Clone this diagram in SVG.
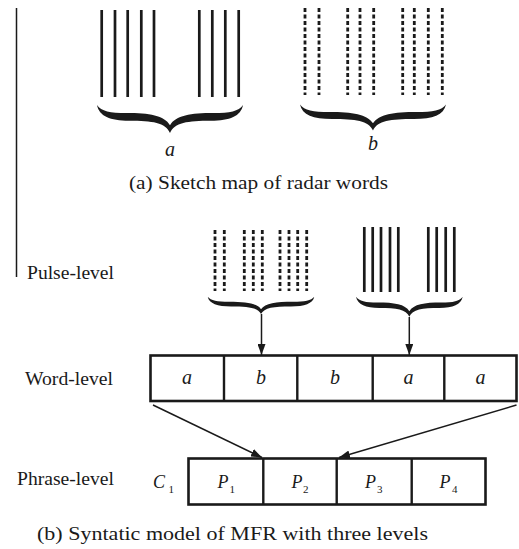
<svg xmlns="http://www.w3.org/2000/svg" width="519" height="549" viewBox="0 0 519 549">
  <style>
    text { font-family: 'Liberation Serif', 'DejaVu Serif', 'Times New Roman', serif; fill: #1a1a1a; }
    .lbl { font-size: 19px; }
    .cap { font-size: 18.5px; }
    .it { font-style: italic; }
    .sub { font-size: 11px; font-style: normal; }
    .solid { stroke: #1a1a1a; stroke-width: 2.7; fill: none; }
    .dots { stroke: #1a1a1a; stroke-width: 2.8; fill: none; stroke-dasharray: 4 2.5; }
    .box { stroke: #1a1a1a; stroke-width: 2.6; fill: #fff; }
    .div { stroke: #1a1a1a; stroke-width: 2.4; }
    .conn { stroke: #1a1a1a; stroke-width: 1.5; fill: none; }
    .brace { fill: #1a1a1a; }
  </style>
  <defs>
    <!-- under-brace, 100 wide and 20 tall, cusp pointing down -->
    <path id="brace" d="M0,0 C3,4.5 9,5.8 20,5.8 C36,5.8 46,7.5 50,14.5 C54,7.5 64,5.8 80,5.8 C91,5.8 97,4.5 100,0 C98.5,8 91,11.2 78,11.2 C62,11.2 53,12.5 50,20 C47,12.5 38,11.2 22,11.2 C9,11.2 1.5,8 0,0 Z"/>
    <marker id="arrow" markerUnits="userSpaceOnUse" markerWidth="11" markerHeight="8" refX="11" refY="4" orient="auto">
      <path d="M0,0 L11,4 L0,8 Z" fill="#1a1a1a"/>
    </marker>
  </defs>

  <rect width="519" height="549" fill="#fff"/>

  <!-- left margin rule -->
  <line x1="16.5" y1="8" x2="16.5" y2="277" stroke="#1a1a1a" stroke-width="1.5"/>

  <!-- (a) radar word a: solid pulses -->
  <g id="word-a">
    <path class="solid" d="M101.7,10V97 M115,10V97 M127.7,10V97 M141.3,10V97 M154,10V97 M199.3,10V97 M212.3,10V97 M225.3,10V97 M238.7,10V97"/>
    <use href="#brace" class="brace" transform="translate(97,105) scale(1.46,1.4)"/>
    <text class="it" x="170" y="156" font-size="20" text-anchor="middle">a</text>
  </g>

  <!-- (a) radar word b: dotted pulses -->
  <g id="word-b">
    <path class="dots" d="M305,8V95 M319,8V95 M347.7,8V95 M360,8V95 M373.7,8V95 M402.7,8V95 M414.3,8V95 M428.3,8V95 M442.3,8V95"/>
    <use href="#brace" class="brace" transform="translate(300,104.5) scale(1.46,1.3)"/>
    <text class="it" x="373" y="150" font-size="20" text-anchor="middle">b</text>
  </g>

  <text id="caption-a" class="cap" x="129" y="189" textLength="259" lengthAdjust="spacingAndGlyphs">(a) Sketch map of radar words</text>

  <!-- level labels -->
  <g id="level-labels">
    <text class="lbl" x="27" y="279" textLength="87" lengthAdjust="spacingAndGlyphs">Pulse-level</text>
    <text class="lbl" x="25" y="385" textLength="88" lengthAdjust="spacingAndGlyphs">Word-level</text>
    <text class="lbl" x="17" y="485" textLength="97" lengthAdjust="spacingAndGlyphs">Phrase-level</text>
  </g>

  <!-- pulse level: dotted group -->
  <g id="pulse-b">
    <path class="dots" d="M215,230V291 M224.3,230V291 M244.3,230V291 M253.3,230V291 M262.3,230V291 M280,230V291 M289,230V291 M297.7,230V291 M306.7,230V291"/>
    <use href="#brace" class="brace" transform="translate(207.7,296.7) scale(1.066,0.865)"/>
  </g>

  <!-- pulse level: solid group -->
  <g id="pulse-a">
    <path class="solid" d="M364.3,227V292 M372.7,227V292 M381,227V292 M390,227V292 M398.3,227V292 M428.3,227V292 M436.7,227V292 M445.7,227V292 M454.3,227V292"/>
    <use href="#brace" class="brace" transform="translate(356,296.7) scale(1.067,1)"/>
  </g>

  <!-- word level sequence -->
  <g id="word-row">
    <rect class="box" x="150.5" y="355.5" width="366" height="45.5"/>
    <path class="div" d="M224,355.5V401 M297.3,355.5V401 M372.7,355.5V401 M444.3,355.5V401"/>
    <text class="it" font-size="20" text-anchor="middle" x="187" y="384">a</text>
    <text class="it" font-size="20" text-anchor="middle" x="261" y="384">b</text>
    <text class="it" font-size="20" text-anchor="middle" x="335" y="384">b</text>
    <text class="it" font-size="20" text-anchor="middle" x="408.5" y="384">a</text>
    <text class="it" font-size="20" text-anchor="middle" x="480.5" y="384">a</text>
  </g>

  <!-- phrase level sequence -->
  <g id="phrase-row">
    <text class="it" x="153" y="488" font-size="18">C</text>
    <text class="sub" x="168.5" y="493">1</text>
    <rect class="box" x="188.5" y="458.5" width="297" height="46"/>
    <path class="div" d="M263.3,458.5V504.5 M336.7,458.5V504.5 M411.7,458.5V504.5"/>
    <text class="it" x="217.5" y="488" font-size="18">P</text>
    <text class="sub" x="229.5" y="493">1</text>
    <text class="it" x="291.5" y="488" font-size="18">P</text>
    <text class="sub" x="303" y="493">2</text>
    <text class="it" x="365" y="488" font-size="18">P</text>
    <text class="sub" x="377" y="493">3</text>
    <text class="it" x="439.5" y="488" font-size="18">P</text>
    <text class="sub" x="452" y="493">4</text>
  </g>

  <!-- connectors -->
  <g id="connectors">
    <line class="conn" x1="261.5" y1="314" x2="261.5" y2="355" marker-end="url(#arrow)"/>
    <line class="conn" x1="409.3" y1="317" x2="409.3" y2="355" marker-end="url(#arrow)"/>
    <line class="conn" x1="153" y1="405" x2="262" y2="457.5" marker-end="url(#arrow)"/>
    <line class="conn" x1="516.5" y1="405" x2="339" y2="457.5" marker-end="url(#arrow)"/>
  </g>

  <text id="caption-b" class="cap" x="37" y="540" textLength="391" lengthAdjust="spacingAndGlyphs">(b) Syntatic model of MFR with three levels</text>
</svg>
